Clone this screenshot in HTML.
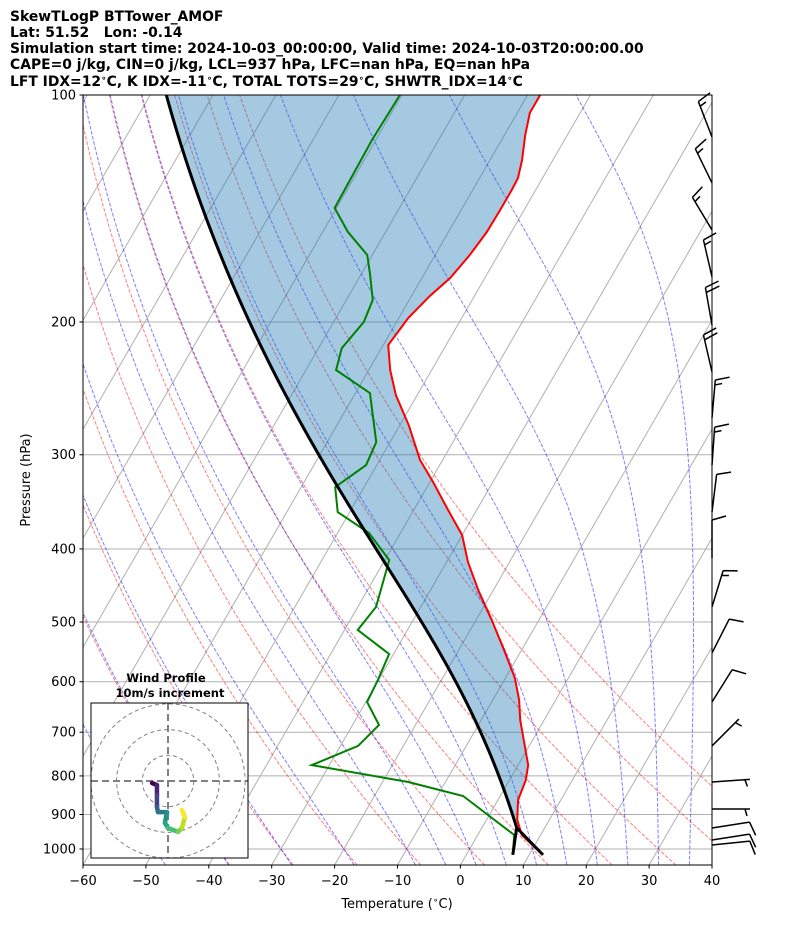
<!DOCTYPE html>
<html><head><meta charset="utf-8"><style>
body{margin:0;background:#fff;}
svg{display:block;font-family:"DejaVu Sans","Liberation Sans",sans-serif;}
text{white-space:pre;}
</style></head><body>
<svg id="chart" width="794" height="937" viewBox="0 0 794 937" xmlns="http://www.w3.org/2000/svg" xml:space="preserve">
<defs><clipPath id="plotclip"><rect x="83" y="95" width="629" height="770"/></clipPath></defs>
<g font-weight="bold" font-size="13.9" fill="#000">
<text x="10" y="21">SkewTLogP BTTower_AMOF</text>
<text x="10" y="37">Lat: 51.52   Lon: -0.14</text>
<text x="10" y="53">Simulation start time: 2024-10-03_00:00:00, Valid time: 2024-10-03T20:00:00.00</text>
<text x="10" y="69">CAPE=0 j/kg, CIN=0 j/kg, LCL=937 hPa, LFC=nan hPa, EQ=nan hPa</text>
<text x="10" y="86">LFT IDX=12<tspan font-size="9" dy="-5">∘</tspan><tspan dy="5">C, K IDX=-11</tspan><tspan font-size="9" dy="-5">∘</tspan><tspan dy="5">C, TOTAL TOTS=29</tspan><tspan font-size="9" dy="-5">∘</tspan><tspan dy="5">C, SHWTR_IDX=14</tspan><tspan font-size="9" dy="-5">∘</tspan><tspan dy="5">C</tspan></text>
</g>
<g id="plot" clip-path="url(#plotclip)"></g>
<g id="axes"></g>
<g id="barbs"></g>
<g id="hodo"></g>
</svg>
<script>
// ---- data ----
const tempP=[100,105.6,113,122,128.9,133.7,142.1,151.9,163,174.8,184.8,197.6,214.6,231.6,250,274,304.8,326,353,383.5,416.4,453.5,497,544.6,593.3,634.6,674.4,716.9,773.9,810,861,915,958,1018];
const tempT=[-58.0,-58.0,-56.7,-54.9,-53.9,-53.8,-53.8,-53.9,-54.5,-55.5,-57.1,-58.5,-59.2,-56.6,-53.4,-48.6,-43.6,-39.5,-34.9,-30.0,-26.6,-22.4,-17.5,-12.8,-8.5,-5.8,-3.8,-1.4,1.6,2.6,3.2,4.9,7.0,12.2];
const dewP=[100,114.7,141.2,151.9,163,173.3,187,200,216.6,231.6,248.5,288.6,309.6,331.1,357.4,381,413.8,477.5,512.3,551.3,596.9,638.3,684.6,730,774,815,850.6,958,1018];
const dewT=[-80.3,-80.6,-80.3,-76.0,-70.8,-68.5,-65.8,-65.2,-66.3,-65.2,-57.7,-52.2,-51.7,-54.6,-51.9,-45.0,-39.3,-37.1,-37.9,-30.7,-30.1,-29.8,-25.8,-27.2,-32.8,-15.9,-5.9,5.8,7.4];
const lclP=937;
const barbP=[113.7,130.8,151,174.3,201.8,233,268,309.6,357.4,411.2,477.5,549.5,638.3,730,815,885,938,973,988];
const barbSpd=[15,15,15,15,20,20,15,15,10,10,15,10,10,5,5,5,10,10,10];
const barbDir=[339,334,329,347,350,347,5,4,7,0,17,27,32,45,86,90,81,81,84];
const hodoU=[-6.2,-4.3,-4.3,-4.3,-3.9,-0.4,-1.2,0,3.9,5.4,6.6,5.4];
const hodoV=[-0.8,-1.6,-5.4,-10.1,-12.1,-12.1,-16.3,-18.3,-19.8,-18.3,-14.0,-11.3];
const pTicks=[100,200,300,400,500,600,700,800,900,1000];
const tTicks=[-60,-50,-40,-30,-20,-10,0,10,20,30,40];
const dryT0=[-40,-30,-20,-10,0,10,20,30,40,50];
const moistT0=[-50,-40,-30,-20,-10,-5,0,5,10,15,20,25,30,35,40,45];

// ---- axes ----
const X0=83,X1=712,Y0=95,Y1=865,PX=754,TX=6.29,SK=Math.tan(Math.PI/6);
const NS='http://www.w3.org/2000/svg';
function yP(p){return Y0+PX*Math.log10(p/100);}
function xT(T,p){return X0+(T+60)*TX+(Y1-yP(p))*SK;}
function mk(parent,tag,attrs){const e=document.createElementNS(NS,tag);for(const k in attrs)e.setAttribute(k,attrs[k]);parent.appendChild(e);return e;}
function pathFrom(ps,ts){return ps.map((p,i)=>(i?'L':'M')+xT(ts[i],p).toFixed(2)+','+yP(p).toFixed(2)).join('');}
const plot=document.getElementById('plot'),axes=document.getElementById('axes');

const Rd=287.04749,Cp=1005.7,Lv=2.50084e6,eps=0.6219569;
function es(Tc){return 6.112*Math.exp(17.67*Tc/(Tc+243.5));}
function dTdp(p,TK){const e=es(TK-273.15);const rs=eps*e/(p-e);return (Rd*TK+Lv*rs)/(Cp+Lv*Lv*rs*eps/(Rd*TK*TK))/p;}
function moist(p0,T0c,pEnd){let p=p0,T=T0c+273.15;const ps=[p],ts=[T0c];const dir=pEnd<p0?-1:1;const h=2*dir;
 while((dir<0&&p>pEnd)||(dir>0&&p<pEnd)){const k1=dTdp(p,T),k2=dTdp(p+h/2,T+h/2*k1),k3=dTdp(p+h/2,T+h/2*k2),k4=dTdp(p+h,T+h*k3);T+=h/6*(k1+2*k2+2*k3+k4);p+=h;ps.push(p);ts.push(T-273.15);}
 return [ps,ts];}

pTicks.forEach(p=>{const l=mk(plot,'line',{x1:X0,x2:X1,y1:yP(p),y2:yP(p),stroke:'#b0b0b0','stroke-width':1});

});
for(let T=-170;T<=40;T+=10){const l=mk(plot,'line',{x1:xT(T,1050),y1:Y1,x2:xT(T,100),y2:Y0,stroke:'#b0b0b0','stroke-width':1});

}
const pLev=[];for(let p=1050;p>=100;p-=10)pLev.push(p);
dryT0.forEach(t0=>{const th=t0+273.15;const ts=pLev.map(p=>th*Math.pow(p/1000,0.2857)-273.15);
const e=mk(plot,'path',{d:pathFrom(pLev,ts),fill:'none',stroke:'#ff0000','stroke-opacity':0.5,'stroke-width':1,'stroke-dasharray':'3.7,1.6'});

});
moistT0.forEach(t0=>{const up=moist(1000,t0,100),dn=moist(1000,t0,1050);
const ps=dn[0].slice().reverse().concat(up[0].slice(1)),ts=dn[1].slice().reverse().concat(up[1].slice(1));
const e=mk(plot,'path',{d:pathFrom(ps,ts),fill:'none',stroke:'#0000ff','stroke-opacity':0.5,'stroke-width':1,'stroke-dasharray':'3.7,1.6'});

});
const sP=tempP[tempP.length-1],sT=tempT[tempT.length-1],sTd=dewT[dewT.length-1];
const dryPs=[],dryTs=[];for(let p=sP;p>lclP;p-=3){dryPs.push(p);dryTs.push((sT+273.15)*Math.pow(p/sP,0.2857)-273.15);}
const tl=(sT+273.15)*Math.pow(lclP/sP,0.2857)-273.15;dryPs.push(lclP);dryTs.push(tl);
const mp=moist(lclP,tl,100);const parP=dryPs.concat(mp[0].slice(1)),parT=dryTs.concat(mp[1].slice(1));
const fd=pathFrom(tempP.slice().reverse(),tempT.slice().reverse())+parP.slice().reverse().map((p,i)=>'L'+xT(parT[parT.length-1-i],p).toFixed(2)+','+yP(p).toFixed(2)).join('')+'Z';
const fill=mk(plot,'path',{d:fd,fill:'#1f77b4','fill-opacity':0.4,stroke:'none'});


const tl1=mk(plot,'path',{d:pathFrom(tempP,tempT),fill:'none',stroke:'#ff0000','stroke-width':2});


const dl=mk(plot,'path',{d:pathFrom(dewP,dewT),fill:'none',stroke:'#008000','stroke-width':2});


const pl=mk(plot,'path',{d:pathFrom(parP,parT)+'M'+xT(sTd,sP)+','+yP(sP)+'L'+xT(tl,lclP)+','+yP(lclP),fill:'none',stroke:'#000','stroke-width':3});


const fr=mk(axes,'rect',{x:X0,y:Y0,width:X1-X0,height:Y1-Y0,fill:'none',stroke:'#000','stroke-width':1});


pTicks.forEach(p=>{mk(axes,'line',{x1:X0-3.5,x2:X0,y1:yP(p),y2:yP(p),stroke:'#000'});
const t=mk(axes,'text',{x:X0-7,y:yP(p)+4.5,'text-anchor':'end','font-size':13});t.textContent=p;

});
tTicks.forEach(T=>{const x=X0+(T+60)*TX;mk(axes,'line',{x1:x,x2:x,y1:Y1,y2:Y1+3.5,stroke:'#000'});
const t=mk(axes,'text',{x:x,y:Y1+20,'text-anchor':'middle','font-size':13});t.textContent=(T<0?'\u2212'+(-T):T);

});
const xl=mk(axes,'text',{x:397,y:908,'text-anchor':'middle','font-size':13});
xl.innerHTML='Temperature (<tspan font-size="9" dy="-5">∘</tspan><tspan dy="5">C)</tspan>';


const yl=mk(axes,'text',{x:30,y:480,'text-anchor':'middle','font-size':13,transform:'rotate(-90 30 480)'});yl.textContent='Pressure (hPa)';


const bg=document.getElementById('barbs');
barbP.forEach((p,i)=>{const by=yP(p),bx=X1,a=barbDir[i]*Math.PI/180,ux=Math.sin(a),uy=-Math.cos(a),L=38;
const tx=bx+ux*L,ty=by+uy*L,px=-uy,py=ux;let d='M'+bx+','+by+'L'+tx+','+ty;let s=barbSpd[i],pos=0;
const full=Math.floor(s/10),half=(s%10)>=5?1:0;
if(full===0&&half)pos=5;
for(let k=0;k<full;k++){const sx=tx-ux*pos,sy=ty-uy*pos;d+='M'+sx+','+sy+'L'+(sx+px*14+ux*4)+','+(sy+py*14+uy*4);pos+=5;}
for(let k=0;k<half;k++){const sx=tx-ux*pos,sy=ty-uy*pos;d+='M'+sx+','+sy+'L'+(sx+px*7+ux*2)+','+(sy+py*7+uy*2);}
const b=mk(bg,'path',{d:d,fill:'none',stroke:'#000','stroke-width':1.5});

});
const hg=document.getElementById('hodo');const HX0=91,HY0=703,HW=157,HH=155,cx=168,cy=781,S=2.57;
const hb=mk(hg,'rect',{x:HX0,y:HY0,width:HW,height:HH,fill:'#fff',stroke:'none'});


const cp=mk(hg,'clipPath',{id:'hclip'});mk(cp,'rect',{x:HX0,y:HY0,width:HW,height:HH});
const hin=mk(hg,'g',{'clip-path':'url(#hclip)'});
[10,20,30].forEach(r=>{const c=mk(hin,'circle',{cx:cx,cy:cy,r:r*S,fill:'none',stroke:'#808080','stroke-width':1,'stroke-dasharray':'4,3'});

});
mk(hin,'line',{x1:HX0,x2:HX0+HW,y1:cy,y2:cy,stroke:'#808080','stroke-width':2,'stroke-dasharray':'7,4'});
mk(hin,'line',{x1:cx,x2:cx,y1:HY0,y2:HY0+HH,stroke:'#808080','stroke-width':2,'stroke-dasharray':'7,4'});
const vir=['#440154','#482475','#414487','#355f8d','#2a788e','#21918c','#22a884','#44bf70','#7ad151','#bddf26','#fde725'];
for(let i=0;i<hodoU.length-1;i++){const c=vir[Math.round(i/(hodoU.length-2)*(vir.length-1))];
const s=mk(hin,'line',{x1:cx+hodoU[i]*S,y1:cy-hodoV[i]*S,x2:cx+hodoU[i+1]*S,y2:cy-hodoV[i+1]*S,stroke:c,'stroke-width':4.5,'stroke-linecap':'round'});

}
const hf=mk(hg,'rect',{x:HX0,y:HY0,width:HW,height:HH,fill:'none',stroke:'#000','stroke-width':1});


const h1=mk(hg,'text',{x:166,y:682,'text-anchor':'middle','font-size':11.5,'font-weight':'bold'});h1.textContent='Wind Profile';


const h2=mk(hg,'text',{x:170,y:697,'text-anchor':'middle','font-size':11.5,'font-weight':'bold'});h2.textContent='10m/s increment';


</script>
</body></html>
